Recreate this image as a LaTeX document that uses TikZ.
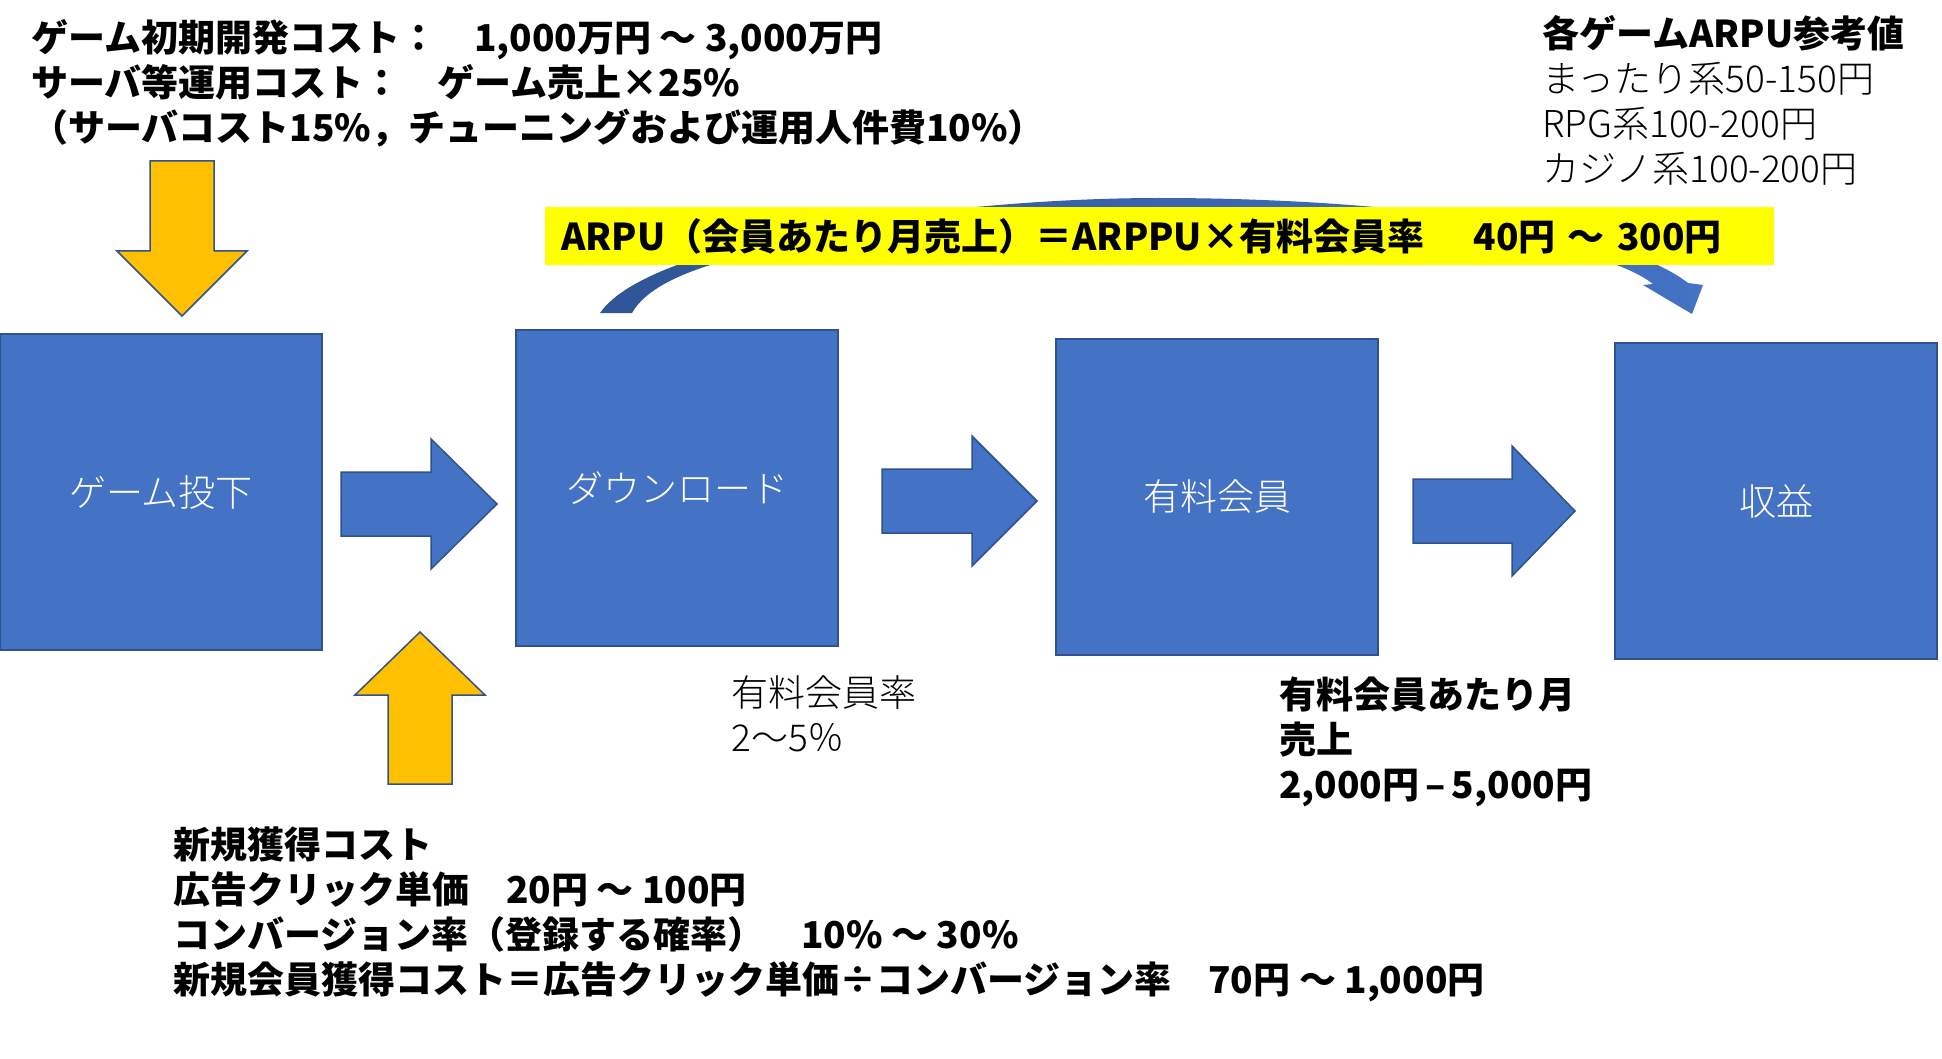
\documentclass[tikz,border=0pt]{standalone}
\usepackage{fontspec}
\setmainfont{Noto Sans CJK JP}
\IfFontExistsTF{Noto Sans CJK JP Light}
  {\newfontfamily\jplight{Noto Sans CJK JP Light}}
  {\newfontfamily\jplight{Noto Sans CJK JP}}
\definecolor{boxblue}{HTML}{4472C4}
\definecolor{edgeblue}{HTML}{2F528F}
\definecolor{gold}{HTML}{FFC000}
\definecolor{darkarc}{HTML}{2F5597}
\definecolor{hilite}{HTML}{FFFF00}
\begin{document}
\begin{tikzpicture}[x=1pt,y=-1pt,
  stage/.style={rectangle, fill=boxblue, draw=edgeblue, line width=1.5pt,
    minimum width=322pt, minimum height=316pt, text=white,
    font=\fontsize{37}{45}\selectfont\jplight, inner sep=0pt},
  flowarrow/.style={fill=boxblue, draw=edgeblue, line width=1.5pt, line join=miter},
  costarrow/.style={fill=gold, draw=edgeblue, line width=1.5pt, line join=miter},
  note/.style={anchor=west, align=left, inner sep=0pt, font=\fontsize{37}{45}\selectfont},
  lightnote/.style={note, font=\fontsize{37}{45}\selectfont\jplight},
  boldnote/.style={note, font=\fontsize{37}{45}\selectfont\bfseries},
]
\useasboundingbox (0,0) rectangle (1942,1059);
\fill[white] (0,0) rectangle (1942,1059);

% stages
\node[stage] (s1) at (161,492) {ゲーム投下};
\node[stage] (s2) at (677,488) {ダウンロード};
\node[stage] (s3) at (1217,497) {有料会員};
\node[stage] (s4) at (1776,501) {収益};

% flow arrows
\newcommand\rightblock[4]{\filldraw[flowarrow] (#1,#4-32) -- (#2,#4-32) -- (#2,#4-65) -- (#3,#4) -- (#2,#4+65) -- (#2,#4+32) -- (#1,#4+32) -- cycle;}
\rightblock{341}{431}{497}{504}
\rightblock{882}{972}{1037}{501}
\rightblock{1413}{1512}{1575}{511}

% cost arrows
\filldraw[costarrow] (150,161) -- (214,161) -- (214,251) -- (247,251) -- (182,316) -- (117,251) -- (150,251) -- cycle;
\filldraw[costarrow] (388,784) -- (452,784) -- (452,695) -- (485,695) -- (420,632) -- (355,695) -- (388,695) -- cycle;

% curved ARPU arrow
\shade[left color=darkarc, right color=boxblue]
 (600,313) .. controls (650,240) and (950,198) .. (1159,198)
 .. controls (1400,198) and (1620,230) .. (1688,283)
 -- (1703,285) -- (1692,314) -- (1643,285) -- (1653,284)
 .. controls (1590,235) and (1380,225) .. (1159,225)
 .. controls (900,225) and (670,245) .. (632,313) -- cycle;

% ARPU label
\node[anchor=west, fill=hilite, inner sep=0pt, inner xsep=16pt, text width=1197pt,
  minimum height=58pt, align=left, font=\fontsize{37}{45}\selectfont\bfseries]
  (arpu) at (545,236) {ARPU（会員あたり月売上）＝ARPPU×有料会員率　 40円 ～ 300円};

% notes
\node[boldnote] (devcost) at (31,83) {ゲーム初期開発コスト：　1,000万円 ～ 3,000万円\\サーバ等運用コスト：　ゲーム売上×25\%\\（サーバコスト15\%，チューニングおよび運用人件費10\%）};

\node[lightnote] (ref) at (1542,100) {{\fontspec{Noto Sans CJK JP}\bfseries 各ゲームARPU参考値}\\まったり系50-150円\\RPG系100-200円\\カジノ系100-200円};

\node[lightnote] (rate) at (731,714) {有料会員率\\2～5％};

\node[boldnote] (arppu) at (1279,742) {有料会員あたり月\\売上\\2,000円\,–\,5,000円};

\node[boldnote] (acq) at (173,914) {新規獲得コスト\\広告クリック単価　20円 ～ 100円\\コンバージョン率（登録する確率）　10\% ～ 30\%\\新規会員獲得コスト＝広告クリック単価÷コンバージョン率　70円 ～ 1,000円};
\end{tikzpicture}
\end{document}
